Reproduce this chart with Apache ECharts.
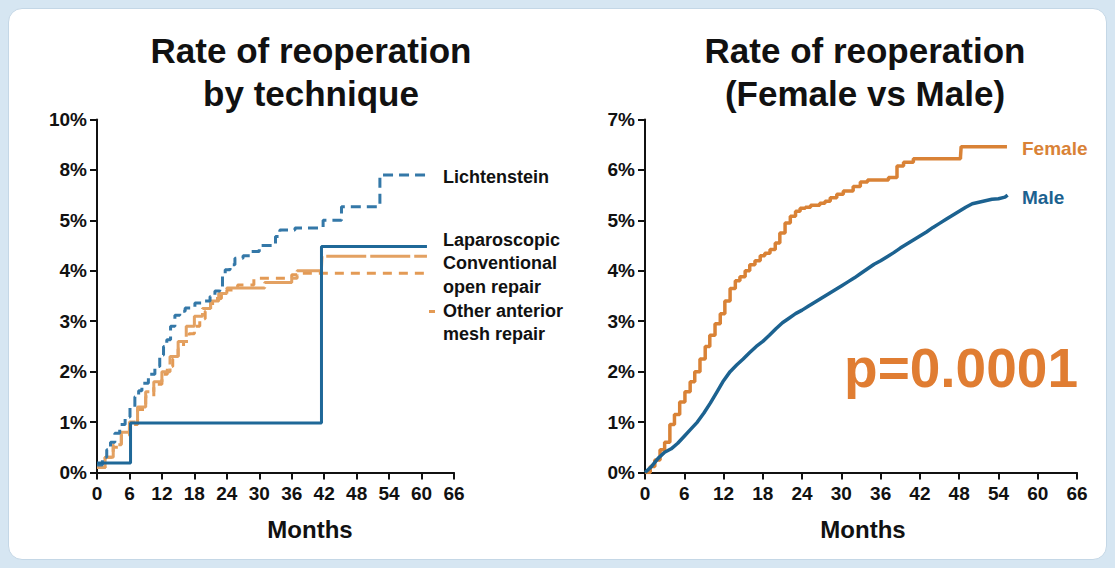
<!DOCTYPE html>
<html>
<head>
<meta charset="utf-8">
<script src="https://cdn.jsdelivr.net/npm/echarts@6/dist/echarts.min.js"></script>
<style>
  html, body { margin: 0; padding: 0; width: 1115px; height: 568px; background: #d6e6f2; overflow: hidden; }
  #panel { position: absolute; left: 8px; top: 8px; width: 1097px; height: 550px; background: #ffffff; border-radius: 14px; border: 1px solid #c4d7e6; }
  #chart { position: absolute; left: 0; top: 0; width: 1115px; height: 568px; }
</style>
</head>
<body>
<div id="panel"></div>
<div id="chart"></div>
<script>
// ---------- DATA ----------
const xTicks = { min: 0, max: 66, interval: 6 };
const leftYTickLabels = ['0%', '1%', '2%', '3%', '4%', '5%', '8%', '10%'];
const rightYTickLabels = ['0%', '1%', '2%', '3%', '4%', '5%', '6%', '7%'];

// Left chart: rate of reoperation by technique (values in axis units, [month, value])
const lichtenstein = [[0,0.15],[1,0.3],[1.8,0.45],[2.5,0.6],[3.3,0.78],[4.2,0.95],[5.2,1.1],[6.1,1.3],[7,1.5],[7.7,1.62],[8.3,1.77],[9.5,1.95],[10.7,2.1],[11.6,2.33],[12.3,2.5],[12.9,2.63],[13.6,2.9],[14.4,3.12],[15.3,3.2],[16.3,3.26],[18.1,3.36],[19.5,3.4],[20.9,3.49],[21.8,3.6],[22.7,3.68],[23.2,3.9],[23.7,4.02],[24.6,4.12],[25.5,4.25],[27,4.3],[28.5,4.38],[30,4.5],[33,4.68],[33.8,4.81],[36.6,4.85],[41.8,5.0],[45.2,5.27],[52.3,5.9],[61,5.9]];
const laparoscopic = [[0,0.19],[6.2,0.98],[41.5,4.48],[61,4.48]];
const conventionalOpen = [[0,0.1],[1.5,0.3],[3,0.55],[4.5,0.8],[6,1.0],[7.5,1.3],[9,1.6],[10.5,1.8],[12,2.0],[13.5,2.3],[15,2.6],[16.5,2.9],[18,3.1],[19.5,3.25],[21,3.4],[22.5,3.55],[24,3.66],[31,3.77],[36,3.85],[37,4.0],[41.5,4.05],[41.6,4.29],[61,4.29]];
const otherAnterior = [[0,0.1],[1.5,0.3],[3,0.5],[4.5,0.75],[6,0.95],[7.5,1.25],[9,1.5],[10.5,1.75],[12,1.95],[13,2.1],[14,2.25],[15,2.45],[16,2.6],[17,2.75],[18,2.9],[19,3.05],[20,3.2],[21,3.35],[22,3.45],[23,3.55],[24,3.62],[26,3.72],[29,3.85],[36,3.92],[37,3.95],[61,3.95]];

// Right chart: female vs male ([month, %])
const female = [[0,0],[0.8,0.12],[1.5,0.25],[2.3,0.45],[3.0,0.6],[3.8,0.95],[4.5,1.15],[5.3,1.4],[6.1,1.6],[6.9,1.8],[7.6,2.0],[8.4,2.25],[9.2,2.5],[9.9,2.72],[10.7,2.95],[11.5,3.15],[12.2,3.4],[13.0,3.65],[13.8,3.8],[14.5,3.88],[15.3,4.0],[16.0,4.12],[16.8,4.2],[17.6,4.3],[18.3,4.35],[19.1,4.42],[19.9,4.55],[20.6,4.75],[21.4,4.95],[22.2,5.08],[23.0,5.18],[23.7,5.24],[24.5,5.26],[25.3,5.3],[26.7,5.34],[27.5,5.38],[28.3,5.45],[29.3,5.52],[30.3,5.58],[31.8,5.67],[32.9,5.76],[34,5.8],[37.2,5.85],[38.5,6.08],[39.5,6.15],[41,6.22],[48.2,6.26],[48.3,6.46],[55.3,6.46]];
const male = [[0,0],[1,0.12],[2,0.28],[3,0.4],[4,0.47],[5,0.58],[6,0.72],[7,0.86],[8,1.0],[9,1.18],[10,1.38],[11,1.6],[12,1.82],[13,2.0],[14,2.13],[15,2.25],[16,2.38],[17,2.5],[18,2.6],[19,2.72],[20,2.85],[21,2.97],[22,3.06],[23,3.15],[24,3.22],[25,3.3],[26,3.38],[27,3.46],[28,3.54],[29,3.62],[30,3.7],[31,3.78],[32,3.86],[33,3.95],[34,4.04],[35,4.13],[36,4.2],[37,4.28],[38,4.36],[39,4.45],[40,4.53],[41,4.61],[42,4.69],[43,4.77],[44,4.86],[45,4.94],[46,5.02],[47,5.1],[48,5.18],[49,5.26],[50,5.33],[51,5.36],[52,5.39],[53,5.42],[54,5.43],[55,5.46],[55.4,5.5]];

const leftTitle = ['Rate of reoperation', 'by technique'];
const rightTitle = ['Rate of reoperation', '(Female vs Male)'];
const leftLabels = ['Lichtenstein', 'Laparoscopic', 'Conventional', 'open repair', 'Other anterior', 'mesh repair'];
const pValue = 'p=0.0001';
const xName = 'Months';

// ---------- STYLE ----------
const FONT = '"Liberation Sans", Arial, Helvetica, sans-serif';
const C = {
  lich: '#3478a8', lap: '#1f6898', conv: '#e3a162', other: '#e39a55',
  female: '#d98236', male: '#1c6290', p: '#e07d32', axis: '#111'
};

function xAxisCfg(gi) {
  return {
    type: 'value', gridIndex: gi, min: xTicks.min, max: xTicks.max, interval: xTicks.interval,
    axisLine: { show: true, lineStyle: { color: C.axis, width: 2 } },
    axisTick: { show: true, length: 7, lineStyle: { color: C.axis, width: 2 } },
    axisLabel: { color: '#111', fontWeight: 'bold', fontSize: 19, fontFamily: FONT, margin: 11 },
    splitLine: { show: false }
  };
}
function yAxisCfg(gi, labels) {
  return {
    type: 'value', gridIndex: gi, min: 0, max: 7, interval: 1,
    axisLine: { show: true, onZero: false, lineStyle: { color: C.axis, width: 2 } },
    axisTick: { show: true, length: 7, lineStyle: { color: C.axis, width: 2 } },
    axisLabel: { color: '#111', fontWeight: 'bold', fontSize: 19, fontFamily: FONT, margin: 10,
      formatter: v => labels[Math.round(v)] },
    splitLine: { show: false }
  };
}
function line(name, data, color, type, gi, step, width) {
  return {
    name, type: 'line', data, xAxisIndex: gi, yAxisIndex: gi, step: step,
    showSymbol: false, symbol: 'none', smooth: false,
    lineStyle: { color, width: width || 3, type },
    animation: false
  };
}
function txt(text, x, y, size, color, align) {
  return { type: 'text', x, y, silent: true,
    style: { text, fill: color, font: `bold ${size}px ${FONT}`, textAlign: align || 'center', textVerticalAlign: 'middle' } };
}

const chart = echarts.init(document.getElementById('chart'), null, { renderer: 'svg' });
chart.setOption({
  animation: false,
  backgroundColor: 'transparent',
  grid: [
    { left: 97, top: 119.5, width: 357, height: 353 },
    { left: 645, top: 119.5, width: 432, height: 353 }
  ],
  xAxis: [xAxisCfg(0), xAxisCfg(1)],
  yAxis: [yAxisCfg(0, leftYTickLabels), yAxisCfg(1, rightYTickLabels)],
  series: [
    line('Other anterior mesh repair', otherAnterior, C.other, [9, 7], 0, 'end'),
    line('Conventional open repair', conventionalOpen, C.conv, [40, 4], 0, 'end'),
    line('Lichtenstein', lichtenstein, C.lich, [10, 6], 0, 'end'),
    line('Laparoscopic', laparoscopic, C.lap, 'solid', 0, 'end'),
    line('Female', female, C.female, 'solid', 1, 'end', 3.5),
    line('Male', male, C.male, 'solid', 1, false, 3.5)
  ],
  graphic: [
    txt(leftTitle[0], 311, 50, 35, '#111'),
    txt(leftTitle[1], 311, 93, 35, '#111'),
    txt(rightTitle[0], 865, 50, 35, '#111'),
    txt(rightTitle[1], 865, 93, 35, '#111'),
    txt(xName, 310, 529, 24, '#111'),
    txt(xName, 863, 529, 24, '#111'),
    txt(leftLabels[0], 443, 177, 18, '#111', 'left'),
    txt(leftLabels[1], 443, 240, 18, '#111', 'left'),
    txt(leftLabels[2], 443, 263, 18, '#111', 'left'),
    txt(leftLabels[3], 443, 287, 18, '#111', 'left'),
    txt(leftLabels[4], 443, 311, 18, '#111', 'left'),
    txt(leftLabels[5], 443, 334, 18, '#111', 'left'),
    { type: 'rect', silent: true, shape: { x: 429, y: 310, width: 6, height: 3 }, style: { fill: C.other } },
    txt('Female', 1022, 148, 19, C.female, 'left'),
    txt('Male', 1022, 197, 19, C.male, 'left'),
    txt(pValue, 961, 368, 55, C.p)
  ]
});
</script>
</body>
</html>
